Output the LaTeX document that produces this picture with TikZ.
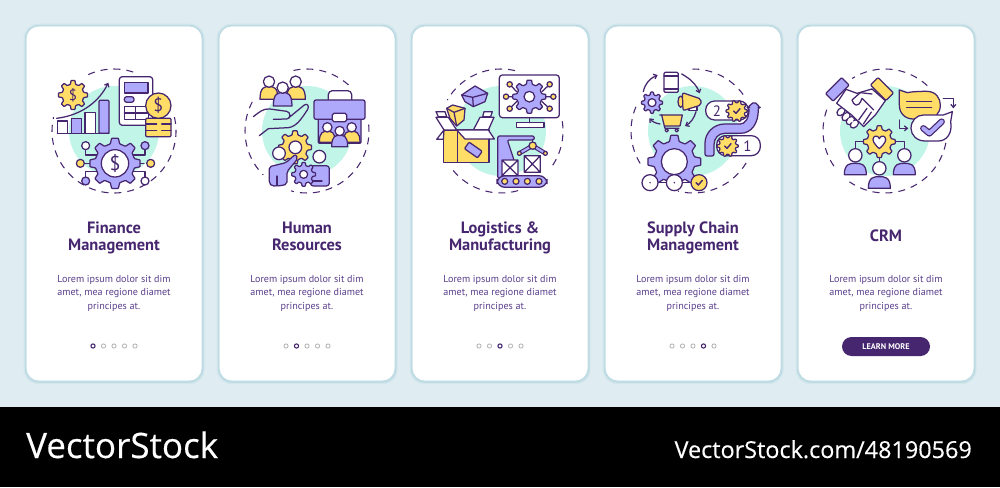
\documentclass[tikz,border=0pt]{standalone}
\usepackage{fontspec}
\usetikzlibrary{arrows.meta}
\newfontfamily\uifont{PT Sans}
\newfontfamily\logofont[FakeBold=0.3]{Open Sans}
\definecolor{bgc}{HTML}{DFEDF2}
\definecolor{edgec}{HTML}{BFDCE5}
\definecolor{edgeb}{HTML}{D2E6EC}
\definecolor{inkc}{HTML}{46266F}
\definecolor{bodyc}{HTML}{5A3F8C}
\definecolor{lav}{HTML}{AEA9FB}
\definecolor{yel}{HTML}{FFDD66}
\definecolor{tea}{HTML}{C0F5E8}
\tikzset{
 ln/.style={draw=inkc,line width=1.25pt,line join=round,line cap=round},
 ringst/.style={draw=inkc,line width=1.05pt,dash pattern=on 7pt off 6pt},
 zoomat/.style 2 args={shift={(#1,#2)},x=0.33333pt,y=-0.33333pt},
 titlest/.style={font=\uifont\bfseries\fontsize{16.4}{17}\selectfont,text=inkc,align=center,inner sep=0pt},
 bodyst/.style={font=\uifont\fontsize{10.1}{13.5}\selectfont,text=bodyc,align=center,inner sep=0pt},
 glyphst/.style={text=inkc,inner sep=0pt},
 arr/.style={ln,-{Straight Barb[length=3pt,width=5pt]}},
}
\newcommand\gearicon[6]{%
 \begin{scope}[shift={(#1,#2)}]
 \pgfmathsetmacro\gst{360/#5}
 \pgfmathtruncatemacro\gnm{#5-1}
 \draw[ln,fill=#6,rounded corners=0.6pt] ({-0.3*\gst}:#4) foreach \gi in {0,...,\gnm}{
   -- ({\gi*\gst-0.3*\gst}:#4) -- ({\gi*\gst-0.17*\gst}:#3) -- ({\gi*\gst+0.17*\gst}:#3) -- ({\gi*\gst+0.3*\gst}:#4)} -- cycle;
 \end{scope}}
\newcommand\dome[5]{\draw[ln,fill=#5] ({#1-#3},#4) .. controls ({#1-#3},#2) and ({#1-.45*#3},#2) .. (#1,#2) .. controls ({#1+.45*#3},#2) and ({#1+#3},#2) .. ({#1+#3},#4) -- cycle;}
\newcommand\headc[4][white]{\draw[ln,fill=#1] (#2,#3) circle (#4);}
\newcommand\ringarc[4]{\draw[ringst] ([shift={(#1,#2)}]#3:62pt) arc[start angle=#3,end angle=#4,radius=62pt];}
\newcommand\teadisc[2]{\fill[tea] (#1,#2) circle (45);}
\newcommand\checkm[2]{\draw[ln,line width=1.4pt] ({#1-9},{#2}) -- ({#1-2},{#2+7}) -- ({#1+10},{#2-7});}
\newcommand\cardbox[1]{%
 \begin{scope}[shift={(#1,0)}]
 \fill[edgeb,rounded corners=15pt] (-2.4,23.6) rectangle (178.6,384.2);
 \fill[edgec,rounded corners=14pt] (-1.2,24.8) rectangle (177.6,382.8);
 \fill[white!93!bgc,rounded corners=12.5pt] (0.6,26.6) rectangle (175.6,380.6);
 \fill[white,rounded corners=12pt] (0.8,26.6) rectangle (175.2,377.5);
 \end{scope}}
\newcommand\pagedots[2]{%
 \foreach \k [count=\n from 1] in {0,10.5,21,31.5,42}{
  \ifnum\n=#2 \draw[draw=inkc,line width=1.1pt,fill=white] ({#1+\k-21},346) circle (2.1);
  \else \draw[draw=black!30,line width=.8pt,fill=white] ({#1+\k-21},346) circle (2.1);\fi}}
\begin{document}
\begin{tikzpicture}[x=1pt,y=-1pt]
\useasboundingbox (0,0) rectangle (1000,487);
\fill[bgc] (0,0) rectangle (1000,407);
\fill[black] (0,407) rectangle (1000,487);
\cardbox{26}\cardbox{219}\cardbox{412}\cardbox{605}\cardbox{798}
% text
\node[titlest] (t1) at (114,238.5) {\strut Finance\\\strut Management};
\node[titlest] (t2) at (307,238.5) {\strut Human\\\strut Resources};
\node[titlest] (t3) at (500,238.5) {\strut Logistics \&\\\strut Manufacturing};
\node[titlest] (t4) at (693,238.5) {\strut Supply Chain\\\strut Management};
\node[titlest] (t5) at (886,238) {\strut CRM};
\foreach \cx/\nm in {114/a,307/b,500/c,693/d,886/e}{
 \node[bodyst] (body\nm) at (\cx,293) {\strut Lorem ipsum dolor sit dim\\\strut amet, mea regione diamet\\\strut principes at.};}
\pagedots{114}{1}\pagedots{307}{2}\pagedots{500}{3}\pagedots{693}{4}
\node[fill=inkc,text=white,rounded corners=9.5pt,minimum width=88pt,minimum height=19pt,inner sep=0pt,font=\uifont\bfseries\fontsize{8.2}{9}\selectfont] (learn) at (886,346.5) {LEARN MORE};
% logos
\node[anchor=base west,text=white,inner sep=0pt,font=\logofont\fontsize{35}{36}\selectfont] (logoa) at (26,458) {VectorStock};
\node[anchor=base east,text=white,inner sep=0pt,font=\logofont\fontsize{23.4}{26}\selectfont] (logob) at (972,458) {VectorStock.com/48190569};
% teal discs and rings
\teadisc{114}{131}\teadisc{307}{131}\teadisc{501}{131}\teadisc{693}{131}\teadisc{885}{131}
\ringarc{114}{131}{72}{120}\ringarc{114}{131}{13}{-193}
\ringarc{307}{131}{48}{108}\ringarc{307}{131}{6}{-105}\ringarc{307}{131}{152}{225}
\ringarc{501}{131}{77}{150}\ringarc{501}{131}{9}{-37}\ringarc{501}{131}{-74}{-146}
\ringarc{693}{131}{36}{96}\ringarc{693}{131}{157}{215}\ringarc{693}{131}{-31}{-104}
\ringarc{885}{131}{47}{122}\ringarc{885}{131}{160}{219}\ringarc{885}{131}{-11}{-125}
% ---------- panel 1
\begin{scope}[zoomat={20}{50}]
\gearicon{159}{135}{44}{33}{8}{yel}
\node[glyphst,font=\uifont\fontsize{15}{15}\selectfont] (d1) at (159,135) {\$};
\draw[ln,fill=white] (112,213) rectangle (143,250);
\draw[ln,fill=lav] (154,205) rectangle (185,250);
\draw[ln,fill=white] (195,187) rectangle (226,250);
\draw[ln,fill=lav,rounded corners=1pt] (237,250) -- (237,151) -- (267,151) -- (267,250) -- cycle;
\draw[ln] (112,250) -- (267,250);
\draw[arr] (110,205) .. controls (190,195) and (240,150) .. (265,98);
\draw[ln,fill=white,rounded corners=3pt] (298,80) rectangle (398,226);
\draw[ln,fill=lav] (313,97) rectangle (384,129);
\draw[ln,fill=lav,rounded corners=2.5pt] (313,140) rectangle (342,157);
\draw[ln] (313,170) rectangle (385,208) (313,189) -- (385,189) (347,170) -- (347,208);
\draw[ln,fill=yel,rounded corners=1pt] (377,205) rectangle (453,260);
\draw[ln] (377,222) -- (410,222) (425,222) -- (453,222) (377,241) -- (410,241) (425,241) -- (453,241);
\draw[ln,fill=yel] (415,167) circle (38);
\node[glyphst,font=\uifont\fontsize{18}{18}\selectfont] (d2) at (415,167) {\$};
\draw[ln] (197,299) -- (197,315) -- (240,315) (375,299) -- (375,315) -- (330,315) (193,340) -- (372,340) (197,381) -- (197,365) -- (240,365) (375,381) -- (375,365) -- (330,365);
\headc{197}{287}{12}\headc[lav]{375}{287}{12}\headc[yel]{181}{340}{12}\headc[yel]{392}{340}{12}\headc[lav]{197}{393}{12}\headc{375}{393}{12}
\gearicon{285}{340}{76}{60}{8}{lav}
\headc{285}{340}{41}
\node[glyphst,font=\uifont\fontsize{20}{20}\selectfont] (d3) at (285,340) {\$};
\end{scope}
% ---------- panel 2
\begin{scope}[zoomat={225}{50}]
\dome{132}{110}{27}{148}{yel}\headc{132}{95}{17}
\dome{213}{110}{28}{148}{yel}\headc{212}{95}{17}
\dome{173}{128}{28}{168}{lav}\headc{173}{113}{17}
\draw[ln] (85,200) .. controls (105,185) and (115,175) .. (135,177) -- (185,184) .. controls (198,186) and (198,207) .. (185,207) -- (145,208) (188,206) -- (238,165) .. controls (248,158) and (254,170) .. (247,180) .. controls (230,205) and (215,230) .. (190,233) -- (130,236) -- (103,257);
\draw[ln,fill=white,rounded corners=4pt] (310,170) -- (310,122) -- (380,122) -- (380,170);
\draw[ln,fill=lav,rounded corners=1pt] (280,190) rectangle (408,280);
\draw[ln,fill=lav,rounded corners=2pt] (267,150) rectangle (420,208);
\draw[ln,fill=white,rounded corners=1.5pt] (322,190) rectangle (365,215);
\dome{307}{244}{24}{277}{yel}\headc{307}{232}{14}
\dome{380}{244}{25}{277}{yel}\headc{380}{232}{14}
\dome{344}{256}{24}{290}{lav}\headc{344}{243}{14}
\gearicon{210}{292}{50}{38}{8}{yel}
\draw[ln,fill=lav,rounded corners=2pt] (133,350) -- (183,338) -- (211,313) -- (219,325) -- (186,365) -- (186,402) -- (170,407) -- (140,408) -- (133,400) -- cycle;
\draw[ln] (156,378) -- (156,407);
\headc{211}{292}{19}\headc{162}{310}{19}
\draw[ln,fill=lav,rounded corners=3pt] (256,347) -- (313,347) -- (313,408) -- (256,408) -- cycle;
\draw[ln] (255,393) -- (291,393);
\headc{283}{320}{19}
\gearicon{236}{373}{36}{27}{8}{lav}
\headc{236}{373}{12}
\end{scope}
% ---------- panel 3
\begin{scope}[zoomat={420}{50}]
\draw[ln,fill=lav] (125,135) -- (165,108) -- (203,130) -- (195,155) -- (160,170) -- (135,155) -- cycle;
\draw[ln] (125,135) -- (158,142) -- (160,170) (158,142) -- (203,130);
\draw[ln,fill=white] (48,185) -- (75,185) -- (80,200) -- (55,200) -- cycle;
\draw[ln,fill=white] (192,185) -- (217,185) -- (212,200) -- (188,200) -- cycle;
\draw[ln,fill=white] (160,240) -- (180,202) -- (222,202) -- (205,240) -- cycle;
\draw[ln,fill=yel] (80,175) -- (98,165) -- (135,175) -- (132,210) -- (110,228) -- (90,205) -- cycle;
\draw[ln] (80,175) -- (102,187) -- (110,228) (102,187) -- (135,175);
\draw[ln,fill=yel] (70,240) rectangle (112,337);
\draw[ln,fill=yel] (112,240) rectangle (207,337);
\draw[ln,fill=white] (48,202) -- (85,202) -- (110,240) -- (72,240) -- cycle;
\draw[ln,fill=white] (72,240) -- (50,268) -- (70,268) -- cycle;
\draw[ln,fill=white] (110,240) -- (205,240) -- (223,267) -- (135,267) -- cycle;
\begin{scope}[shift={(160,300)},rotate=-35]
\draw[ln,fill=lav,rounded corners=1pt] (-24,-12) rectangle (24,12);
\end{scope}
\draw[ln,fill=white,rounded corners=3pt] (238,75) rectangle (418,203);
\draw[ln,fill=white] (290,218) rectangle (372,232);
\draw[ln] (328,203) -- (328,218);
\draw[ln] (269,103) -- (290,125) (389,103) -- (366,125) (258,140) -- (400,140) (269,176) -- (290,155) (389,176) -- (366,155);
\gearicon{328}{140}{50}{38}{8}{lav}
\headc{328}{140}{16}
\foreach \px/\py in {269/103,389/103,258/140,400/140,269/176,389/176}{\headc[yel]{\px}{\py}{8}}
\draw[ln,fill=lav,rounded corners=2pt] (233,385) -- (233,258) -- (343,258) -- (343,270) -- (262,270) -- (282,330) -- (282,385) -- cycle;
\draw[ln] (337,268) -- (337,280);
\draw[ln,fill=lav,rounded corners=8pt] (231,377) rectangle (381,412);
\foreach \px in {254,288,322,357}{\headc[yel]{\px}{394}{9}}
\draw[ln,fill=white] (246,330) rectangle (294,377) (246,330) -- (294,377) (294,330) -- (246,377);
\draw[ln,fill=white] (313,317) rectangle (361,367) (313,317) -- (361,367) (361,317) -- (313,367);
\draw[ln,line width=4.4pt] (298,310) -- (338,287) -- (376,310);
\draw[draw=lav,line width=2.2pt,line join=round] (298,310) -- (338,287) -- (376,310);
\headc[yel]{338}{287}{11}\headc[yel]{298}{310}{6}\headc[yel]{376}{310}{6}
\end{scope}
% ---------- panel 4
\begin{scope}[zoomat={615}{50}]
\draw[ln,fill=white,rounded corners=1.2pt] (147,67) rectangle (190,127);
\draw[ln] (147,78) -- (190,78) (147,117) -- (190,117);
\gearicon{111}{158}{32}{24}{8}{lav}\headc{111}{158}{12}
\draw[ln,fill=yel] (197,155) ellipse (8 and 17);
\draw[ln,fill=white] (222,170) rectangle (246,182);
\draw[ln,fill=yel,rounded corners=2pt] (202,128) -- (258,147) -- (258,165) -- (204,182) -- cycle;
\draw[ln,fill=yel] (140,195) -- (202,195) -- (195,228) -- (148,228) -- cycle;
\draw[ln] (134,195) -- (140,195) (148,228) -- (150,235) -- (192,235);
\headc{155}{241}{5}\headc{185}{241}{5}
\draw[arr] (85,125) .. controls (90,100) and (105,85) .. (128,75);
\draw[arr] (200,72) .. controls (225,85) and (245,105) .. (254,130);
\draw[arr] (243,185) .. controls (238,205) and (225,220) .. (210,228);
\draw[arr] (135,222) .. controls (122,220) and (112,215) .. (103,205);
\draw[ln,fill=white,rounded corners=9pt] (272,153) rectangle (400,210);
\node[glyphst,font=\uifont\fontsize{15}{15}\selectfont] (n2) at (306,184) {2};
\gearicon{365}{183}{32}{25}{10}{yel}\checkm{365}{183}
\draw[ln,fill=white,rounded corners=9pt] (305,257) rectangle (436,317);
\node[glyphst,font=\uifont\fontsize{15}{15}\selectfont] (n1) at (397,289) {1};
\gearicon{338}{288}{32}{25}{10}{yel}\checkm{338}{288}
\draw[ln,fill=lav,rounded corners=2pt] (270,318) -- (270,285) .. controls (270,250) and (295,222) .. (335,222) -- (370,222) .. controls (390,222) and (402,205) .. (402,172) -- (398,172) -- (418,155) -- (435,172) -- (430,172) .. controls (430,220) and (410,250) .. (370,250) -- (335,250) .. controls (310,250) and (297,265) .. (297,290) -- (297,318) -- cycle;
\gearicon{178}{335}{80}{62}{8}{lav}
\headc{178}{335}{39}
\draw[ln] (105,398) -- (252,398);
\headc{105}{398}{24}\fill[inkc] (105,398) circle (2.5);
\headc{178}{398}{24}\fill[inkc] (178,398) circle (2.5);
\headc[yel]{252}{398}{24}\checkm{252}{398}
\end{scope}
% ---------- panel 5
\begin{scope}[zoomat={810}{50}]
\foreach \fx/\fy in {93/185,108/200,121/212,133/222}{
 \draw[ln,fill=white,rotate around={-45:(\fx,\fy)}] (\fx,\fy) ellipse (10 and 14);}
\draw[ln,fill=white,line join=round] (108,118) -- (141,130) -- (186,117) -- (226,152) -- (196,195) -- (161,230) -- (125,195) -- (80,160) -- cycle;
\foreach \fx/\fy in {108/200,121/212,133/222}{
 \fill[white,rotate around={-45:(\fx,\fy)}] (\fx,{\fy-3}) ellipse (7 and 8);}
\draw[ln] (186,132) -- (151,128) -- (126,150) .. controls (130,165) and (145,178) .. (156,145) -- (191,180) (171,175) -- (146,210) (184,186) -- (160,222);
\begin{scope}[shift={(82,118)},rotate=45]
\draw[ln,fill=lav,rounded corners=1pt] (-34,-16) rectangle (34,16);
\end{scope}
\begin{scope}[shift={(216,117)},rotate=-45]
\draw[ln,fill=yel,rounded corners=1pt] (-33,-16) rectangle (33,16);
\end{scope}
\draw[ln,fill=yel] (268,120) -- (292,128) .. controls (310,124) and (340,124) .. (350,124) .. controls (378,124) and (391,145) .. (391,165) .. controls (391,190) and (375,207) .. (348,207) -- (310,207) .. controls (285,207) and (268,190) .. (268,165) -- cycle;
\draw[ln] (290,155) -- (365,155) (290,172) -- (365,172);
\draw[ln,fill=white] (340,195) -- (400,195) -- (427,185) -- (422,215) .. controls (428,250) and (410,273) .. (385,273) -- (345,273) .. controls (320,273) and (303,255) .. (303,235) .. controls (303,212) and (320,195) .. (340,195) -- cycle;
\draw[ln,line width=6.5pt] (340,235) -- (358,250) -- (395,215);
\draw[draw=lav,line width=4pt,line cap=round,line join=round] (340,235) -- (358,250) -- (395,215);
\draw[arr] (400,145) -- (430,145) -- (430,175);
\draw[arr] (268,210) -- (268,235) -- (295,235);
\draw[ln] (136,296) -- (136,275) -- (283,275) -- (283,296) (208,300) -- (208,335);
\gearicon{208}{275}{48}{37}{8}{yel}
\draw[ln,fill=white] (208,296) .. controls (190,280) and (186,270) .. (191,262) .. controls (196,255) and (205,258) .. (208,266) .. controls (211,258) and (220,255) .. (225,262) .. controls (230,270) and (226,280) .. (208,296) -- cycle;
\dome{136}{340}{33}{374}{lav}\dome{283}{340}{33}{374}{lav}\dome{208}{380}{33}{415}{lav}
\headc{136}{316}{20}\headc{283}{316}{20}\headc{208}{355}{20}
\end{scope}
\end{tikzpicture}
\end{document}
